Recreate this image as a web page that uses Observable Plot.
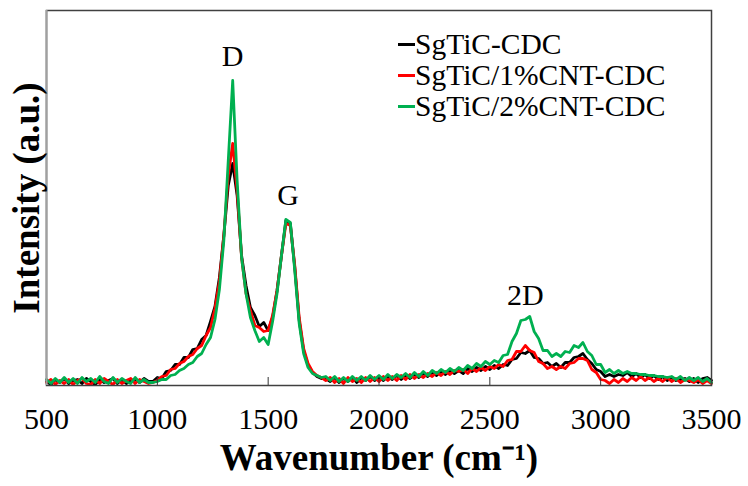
<!DOCTYPE html>
<html>
<head>
<meta charset="utf-8">
<script src="https://cdn.jsdelivr.net/npm/d3@7"></script>
<script src="https://cdn.jsdelivr.net/npm/@observablehq/plot@0.6"></script>
<style>
  html, body { margin: 0; padding: 0; background: #fff; }
  #wrap { position: relative; width: 748px; height: 486px; font-family: "Liberation Serif", "Times New Roman", serif; }
  #legend { position: absolute; left: 398px; top: 29px; font-size: 29.5px; line-height: 31px; color: #000; }
  #legend .row { display: flex; align-items: center; white-space: nowrap; }
  #legend .sw { display: inline-block; width: 17px; height: 2.5px; margin-right: 0px; }
</style>
</head>
<body>
<div id="wrap"><div id="legend"></div></div>
<script>
// ---- data ----
const seriesNames = ["SgTiC-CDC", "SgTiC/1%CNT-CDC", "SgTiC/2%CNT-CDC"];
const seriesColors = ["#000000", "#ff0000", "#00b050"];

const wavenumber = [
  500,520,540,560,580,600,620,640,660,680,700,720,740,760,780,800,820,840,860,880,900,920,940,960,
  980,1000,1020,1040,1060,1080,1100,1120,1140,1160,1180,1200,1220,1240,1260,1280,1300,1320,1340,1360,
  1380,1400,1420,1440,1460,1480,1500,1520,1540,1560,1580,1600,1620,1640,1660,1680,1700,1720,1740,
  1760,1780,1800,1820,1840,1860,1880,1900,1920,1940,1960,1980,2000,2020,2040,2060,2080,2100,2120,2140,
  2160,2180,2200,2220,2240,2260,2280,2300,2320,2340,2360,2380,2400,2420,2440,2460,2480,2500,2520,2540,
  2560,2580,2600,2620,2640,2660,2680,2700,2720,2740,2760,2780,2800,2820,2840,2860,2880,2900,2920,2940,
  2960,2980,3000,3020,3040,3060,3080,3100,3120,3140,3160,3180,3200,3220,3240,3260,3280,3300,3320,3340,
  3360,3380,3400,3420,3440,3460,3480,3500
];

const intensityA = [ // SgTiC-CDC (black)
  4,1,6,3,7,2,5,6,2,7,4,1,6,3,5,7,2,6,2,5,6,3,7,4,
  4,8,7,14,15,21,21,28,28,36,37,46,50,64,79,108,150,200,222,190,
  130,100,78,70,59,63,55,68,95,130,165,162,118,65,35,20,13,9,7,
  7,4,8,3,7,4,8,3,8,5, 9,5,8,5,9,6,10,6,10,7,
  11,8,12,9,13,10,14,11,15,12, 15,12,17,14,18,15,19,16,20,17,
  21,20,26,27,33,32,35,28,27,22, 23,19,22,18,23,23,28,29,32,26,
  22,16,14,9,11,9,11,10,13,9, 12,8,11,7,10,6,9,5,8,5,
  6,7,4,7,3,7,8,5
];
const intensityB = [ // SgTiC/1%CNT-CDC (red)
  3,6,1,5,2,6,1,5,7,2,1,6,2,7,4,1,6,2,5,7,2,6,4,2,
  3,5,9,10,16,17,22,24,29,31,37,40,50,58,77,104,150,210,242,195,
  128,92,75,60,58,54,55,70,95,130,162,160,120,68,37,22,14,10,8,
  5,8,3,7,2,8,4,7,3,8, 4,8,4,9,5,9,5,10,6,11,
  7,11,8,12,9,13,10,14,11,15, 14,16,12,17,14,18,15,19,17,21,
  19,25,26,34,34,40,35,33,24,22, 17,19,16,19,17,22,23,27,27,25,
  16,13,6,5,2,6,3,7,4,8, 5,9,5,8,4,7,4,8,4,7,
  3,6,5,3,6,2,5,2
];
const intensityC = [ // SgTiC/2%CNT-CDC (green)
  6,2,7,3,8,3,7,2,8,4,7,3,9,4,2,8,3,7,4,2,8,3,6,3,
  3,4,6,6,10,11,15,17,21,23,29,32,41,48,66,96,145,225,305,205,
  128,92,68,55,44,48,41,64,92,130,166,163,115,62,32,18,12,10,8,
  9,5,9,4,8,4,9,5,9,5, 10,6,10,6,11,7,11,8,12,8,
  13,9,14,10,15,12,16,13,17,14, 18,15,20,17,22,19,24,21,25,23,
  30,31,44,52,65,66,69,54,47,35, 35,29,32,29,34,33,40,38,43,34,
  30,21,21,13,16,12,15,12,14,12, 12,11,11,10,10,9,9,8,9,6,
  9,5,8,5,8,4,7,3
];

const xTicks = [500, 1000, 1500, 2000, 2500, 3000, 3500];
const peakLabels = ["D", "G", "2D"];
const peakWavenumbers = [1340, 1590, 2660];

// ---- build table ----
const allSeries = [intensityA, intensityB, intensityC];
const rows = [];
allSeries.forEach((vals, s) => {
  vals.forEach((v, i) => rows.push({series: seriesNames[s], x: wavenumber[i], y: v}));
});
const nearestIndex = w => d3.leastIndex(wavenumber, v => Math.abs(v - w));
const peaks = peakLabels.map((label, i) => {
  const idx = nearestIndex(peakWavenumbers[i]);
  return {label, x: peakWavenumbers[i], y: d3.max(allSeries, s => s[idx])};
});

const font = "'Liberation Serif', 'Times New Roman', serif";
const W = 748, H = 486;
const mL = 46, mR = 37, mT = 10, mB = 101;
const innerH = H - mT - mB;

const chart = Plot.plot({
  width: W, height: H,
  marginLeft: mL, marginRight: mR, marginTop: mT, marginBottom: mB,
  style: {fontFamily: font, background: "white", color: "#000"},
  x: {domain: [500, 3500], ticks: xTicks},
  y: {domain: [0, 375], axis: null},
  color: {domain: seriesNames, range: seriesColors},
  marks: [
    Plot.line(rows, {x: "x", y: "y", z: "series", stroke: "series", strokeWidth: 2.8, strokeLinejoin: "round"}),
    Plot.ruleX(xTicks.slice(1, -1), {x: d => d, insetTop: innerH - 8, stroke: "#333", strokeWidth: 1}),
    Plot.frame({stroke: "#404040", strokeWidth: 1.5}),
    Plot.ruleX([500], {x: d => d, stroke: "#a0a0a0", strokeWidth: 2}),
    Plot.axisX({ticks: xTicks, tickSize: 0, tickPadding: 22, fontSize: 30, label: null, tickFormat: d => String(d)}),
    Plot.text(peaks, {x: "x", y: "y", text: "label", dy: -24, fontSize: 30, fill: "#000"}),
    Plot.text(["Wavenumber (cm\u207B\u00B9)"], {frameAnchor: "bottom", dy: 84, fontSize: 37, fontWeight: "bold", fill: "#000"}),
    Plot.text(["Intensity (a.u.)"], {frameAnchor: "left", textAnchor: "middle", rotate: -90, dx: -19, fontSize: 37, fontWeight: "bold", fill: "#000"})
  ]
});
const wrap = document.getElementById("wrap");
wrap.insertBefore(chart, wrap.firstChild);

const legend = document.getElementById("legend");
seriesNames.forEach((name, i) => {
  const row = document.createElement("div");
  row.className = "row";
  const sw = document.createElement("span");
  sw.className = "sw";
  sw.style.background = seriesColors[i];
  row.appendChild(sw);
  row.appendChild(document.createTextNode(name));
  legend.appendChild(row);
});
</script>
</body>
</html>
